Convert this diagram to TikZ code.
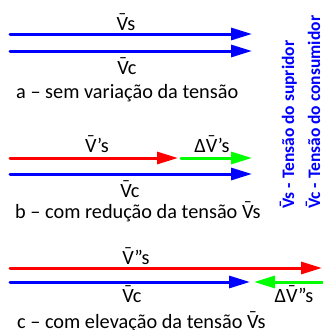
\documentclass[tikz,border=0pt]{standalone}
\usepackage{fontspec}
\setmainfont{Carlito}
\usetikzlibrary{arrows.meta}
\newcommand{\Vm}{\accent"AF V}
\begin{document}
\begin{tikzpicture}[x=1pt,y=-1pt,
		vec/.style={line width=3pt,line cap=round,-{Triangle[length=21pt,width=12pt]}},
		lbl/.style={anchor=base,inner sep=0pt,font=\fontsize{20.3}{22}\selectfont},
		legenda/.style={anchor=base west,inner sep=0pt,font=\fontsize{20.3}{22}\selectfont},
		legend/.style={anchor=base west,rotate=90,inner sep=0pt,text=blue,font=\fontsize{17.5}{20}\selectfont\bfseries}]
			\useasboundingbox (0,0) rectangle (323,330);
			% a
			\coordinate (a1) at (10,34);   \coordinate (a2) at (252,34);
			\coordinate (a3) at (10,51);   \coordinate (a4) at (252,51);
			\draw[vec,blue] (a1) -- (a2);
			\draw[vec,blue] (a3) -- (a4);
			\node[lbl] (avs) at (126,30) {\Vm s};
			\node[lbl] (avc) at (127,74) {\Vm c};
			\node[legenda] (acap) at (16,98) {a – sem variação da tensão};
			% b
			\coordinate (b1) at (10,158);  \coordinate (b2) at (178,158);
			\coordinate (b3) at (181,158); \coordinate (b4) at (252,158);
			\coordinate (b5) at (10,174);  \coordinate (b6) at (252,174);
			\draw[vec,red] (b1) -- (b2);
			\draw[vec,green] (b3) -- (b4);
			\draw[vec,blue] (b5) -- (b6);
			\node[lbl] (bvs) at (97,152) {\Vm’s};
			\node[lbl] (bdv) at (212,152) {Δ\Vm’s};
			\node[lbl] (bvc) at (130,197) {\Vm c};
			\node[legenda] (bcap) at (15,218) {b – com redução da tensão \Vm s};
			% c
			\coordinate (c1) at (10,268);  \coordinate (c2) at (322,268);
			\coordinate (c3) at (10,282);  \coordinate (c4) at (250,282);
			\coordinate (c5) at (326,282); \coordinate (c6) at (254,282);
			\draw[vec,red] (c1) -- (c2);
			\draw[vec,blue] (c3) -- (c4);
			\draw[vec,green] (c5) -- (c6);
			\node[lbl] (cvs) at (136,264) {\Vm”s};
			\node[lbl] (cvc) at (132,302) {\Vm c};
			\node[lbl] (cdv) at (294,302) {Δ\Vm”s};
			\node[legenda] (ccap) at (17,328) {c – com elevação da tensão \Vm s};
			% legenda
			\node[legend] (lvs) at (294,209) {\Vm s - Tensão do supridor};
			\node[legend] (lvc) at (320,209) {\Vm c - Tensão do consumidor};
		\end{tikzpicture}
\end{document}
